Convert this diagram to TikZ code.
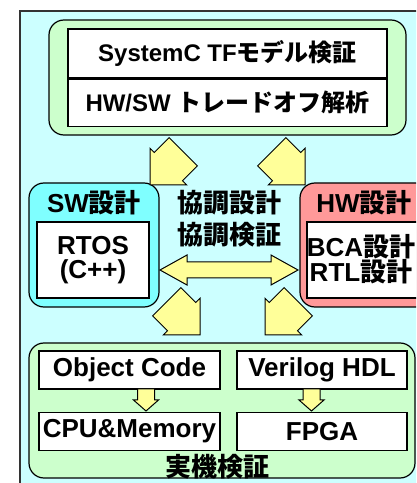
\documentclass[tikz,border=0pt]{standalone}
\usepackage{fontspec}
\setmainfont{Liberation Sans}
\newfontfamily\jp{Noto Sans CJK JP}
\usetikzlibrary{positioning}
\definecolor{bgcyan}{HTML}{CCFFFF}
\definecolor{pgreen}{HTML}{CCFFCC}
\definecolor{swcyan}{HTML}{7FFFFF}
\definecolor{hwpink}{HTML}{FF9999}
\definecolor{ayellow}{HTML}{FFFF99}
\newcommand\diagfont{\fontsize{26}{24}\selectfont\bfseries}
\newcommand\tffont{\fontsize{24}{26}\selectfont\bfseries}
\tikzset{
  frame/.style={draw=black!80, line width=1.5pt, fill=bgcyan},
  panel/.style={draw=black, line width=1.2pt, rounded corners=15pt, inner sep=0pt},
  wbox/.style={draw=black, line width=1.2pt, fill=white, inner sep=0pt, font=\diagfont},
  headtext/.style={inner sep=0pt, font=\diagfont},
  yarrow/.style={draw=black, line width=1pt, fill=ayellow, line join=miter},
}
\begin{document}
\begin{tikzpicture}[x=1pt,y=1pt]
  \useasboundingbox (0,0) rectangle (416,483);
  \clip (0,0) rectangle (416,483);
  \draw[frame] (20,472) rectangle (440,-20);

  % co-design model
  \node[panel, fill=pgreen, minimum width=357, minimum height=115] (model) at (227.5,405.5) {};
  \node[wbox, font=\tffont, minimum width=319, minimum height=49] (tf) at (227.5,429.5) {SystemC TF{\jp モデル検証}};
  \node[wbox, font=\tffont, minimum width=319, minimum height=47, below=0pt of tf] (trade) {HW/SW {\jp トレードオフ解析}};

  % SW and HW sides
  \node[panel, fill=swcyan, minimum width=130, minimum height=124] (sw) at (94,238) {};
  \node[headtext] (swt) at (94,280) {SW{\jp 設計}};
  \node[wbox, align=center, minimum width=112, minimum height=76] (rtos) at (93,223) {RTOS\\(C++)};
  \node[panel, fill=hwpink, minimum width=130, minimum height=124] (hw) at (365,238) {};
  \node[headtext] (hwt) at (364,280) {HW{\jp 設計}};
  \node[wbox, minimum width=116, minimum height=76] (rtl) at (365,223) {};
  \node[headtext, align=center] (rtlt) at (361,224) {BCA{\jp 設計}\\RTL{\jp 設計}};
  \node[headtext] (codes) at (229,280) {\jp 協調設計};
  \node[headtext] (cover) at (229,248) {\jp 協調検証};

  % prototype
  \node[panel, fill=pgreen, minimum width=386, minimum height=135] (board) at (222,72.5) {};
  \node[wbox, minimum width=181, minimum height=38] (obj) at (129.5,113) {Object Code};
  \node[wbox, minimum width=181, minimum height=38, below=22pt of obj] (cpu) {CPU\&Memory};
  \node[wbox, minimum width=170, minimum height=38] (vlog) at (322,113) {Verilog HDL};
  \node[wbox, minimum width=170, minimum height=38, below=22pt of vlog] (fpga) {FPGA};
  \node[headtext] (proto) at (217.5,16) {\jp 実機検証};

  \foreach \ax/\ay/\ang in {150/298/225, 305/298/-45, 200/148/-45, 265/148/225}
    \draw[yarrow, shift={(\ax,\ay)}, rotate=\ang] (0,0) -- (-26,26) -- (-26,20) -- (-47,20)
      -- (-47,-20) -- (-26,-20) -- (-26,-26) -- cycle;
  \draw[yarrow] (160,213) -- (187,228) -- (187,221) -- (271,221) -- (271,228) -- (298,213)
    -- (271,198) -- (271,205) -- (187,205) -- (187,198) -- cycle;
  \foreach \ax in {146,311.5}
    \draw[yarrow, shift={(\ax,0)}] (-8.5,94) -- (8.5,94) -- (8.5,83) -- (12.5,83) -- (0,72)
      -- (-12.5,83) -- (-8.5,83) -- cycle;
\end{tikzpicture}
\end{document}
